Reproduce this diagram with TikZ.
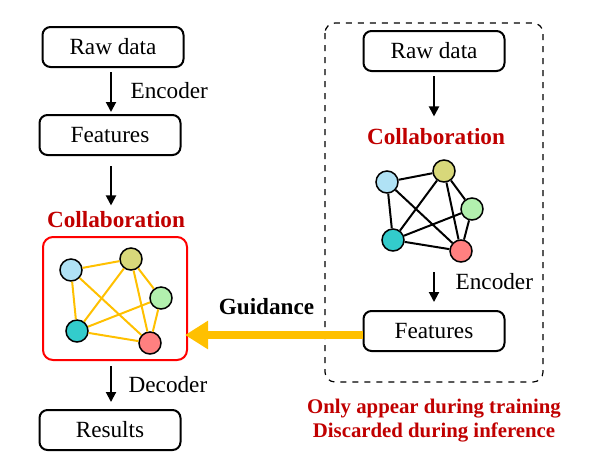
\documentclass[tikz,border=0pt]{standalone}
\usepackage{fontspec}
\setmainfont{Liberation Serif}
\usetikzlibrary{arrows.meta}
\definecolor{collab}{RGB}{192,0,0}
\definecolor{guide}{RGB}{255,192,0}
\definecolor{agblue}{RGB}{176,226,245}
\definecolor{agolive}{RGB}{216,216,122}
\definecolor{aggreen}{RGB}{178,240,174}
\definecolor{agteal}{RGB}{51,204,204}
\definecolor{agred}{RGB}{255,128,128}

\begin{document}
\begin{tikzpicture}[x=0.5pt, y=-0.5pt, every node/.style={font=\fontsize{11.6}{13}\selectfont},
  box/.style={draw, line width=1pt, rounded corners=4pt, minimum width=70.5pt, minimum height=20pt, inner sep=0pt},
  title/.style={text=collab, font=\fontsize{11.6}{13}\selectfont\bfseries, inner sep=0pt},
  agent/.style={draw, circle, line width=0.75pt, minimum size=11pt, inner sep=0pt},
  flow/.style={-{Triangle[length=5pt, width=5pt]}, line width=1pt}]
  \useasboundingbox (0,0) rectangle (597,456);
  \draw[dashed, line width=0.6pt, rounded corners=5pt] (325,23) rectangle (543,382);
  \node[box] (raw1) at (113,47) {Raw data};
  \node[box] (feat1) at (110,135) {Features};
  \node[title] (col1) at (116,220) {Collaboration};
  \node[draw=red, line width=1pt, rounded corners=5pt, minimum width=72pt, minimum height=61.5pt] (grp1) at (115,298.5) {};
  \node[box] (res1) at (110,430) {Results};
  \node[box] (raw2) at (434,51) {Raw data};
  \node[title] (col2) at (436,137) {Collaboration};
  \coordinate (g2) at (434,272);
  \node[box] (feat2) at (434,331) {Features};
  \foreach \n/\x/\y/\c in {1/71/270/agblue, 2/131/259/agolive, 3/161/298/aggreen, 4/77/331/agteal, 5/150/343/agred} {
    \node[agent, fill=\c] (l\n) at (\x,\y) {};
  }
  \foreach \n/\x/\y/\c in {1/387/182/agblue, 2/444/171/agolive, 3/472/209/aggreen, 4/393/240/agteal, 5/461/251/agred} {
    \node[agent, fill=\c] (r\n) at (\x,\y) {};
  }
  \foreach \a/\b in {1/2, 1/4, 1/5, 2/4, 2/3, 2/5, 3/4, 3/5, 4/5} {
    \draw[guide, line width=1pt] (l\a) -- (l\b);
    \draw[line width=1pt] (r\a) -- (r\b);
  }
  \draw[flow, shorten <=2.5pt, shorten >=1pt] (111,67) coordinate (e1) -- (e1 |- feat1.north) node[midway, right=6pt] (enc1) {Encoder};
  \draw[flow, shorten <=5pt, shorten >=3pt] (feat1.south -| e1) -- (e1 |- col1.north);
  \draw[flow, shorten <=2.5pt, shorten >=3.5pt] (grp1.south -| e1) -- (e1 |- res1.north) node[midway, right=5pt] (dec1) {Decoder};
  \draw[flow, shorten <=2pt, shorten >=6pt] (raw2.south) -- (raw2.south |- col2.north);
  \draw[flow, shorten >=4pt] (g2) -- (feat2) node[pos=0.26, right=7pt] (enc2) {Encoder};
  \draw[guide, line width=4pt, -{Triangle[length=11.5pt, width=13.5pt]}, shorten >=-1.5pt] ([yshift=-2pt]feat2.west) -- ([yshift=-2pt]feat2.west -| grp1.east) node[pos=0.55, above=5pt, text=black, font=\fontsize{11.6}{13}\selectfont\bfseries] (guid) {Guidance};
  \node[title, align=center, font=\fontsize{10.4}{12}\selectfont\bfseries] (note) at (434,421) {Only appear during training\\Discarded during inference};
\end{tikzpicture}
\end{document}
